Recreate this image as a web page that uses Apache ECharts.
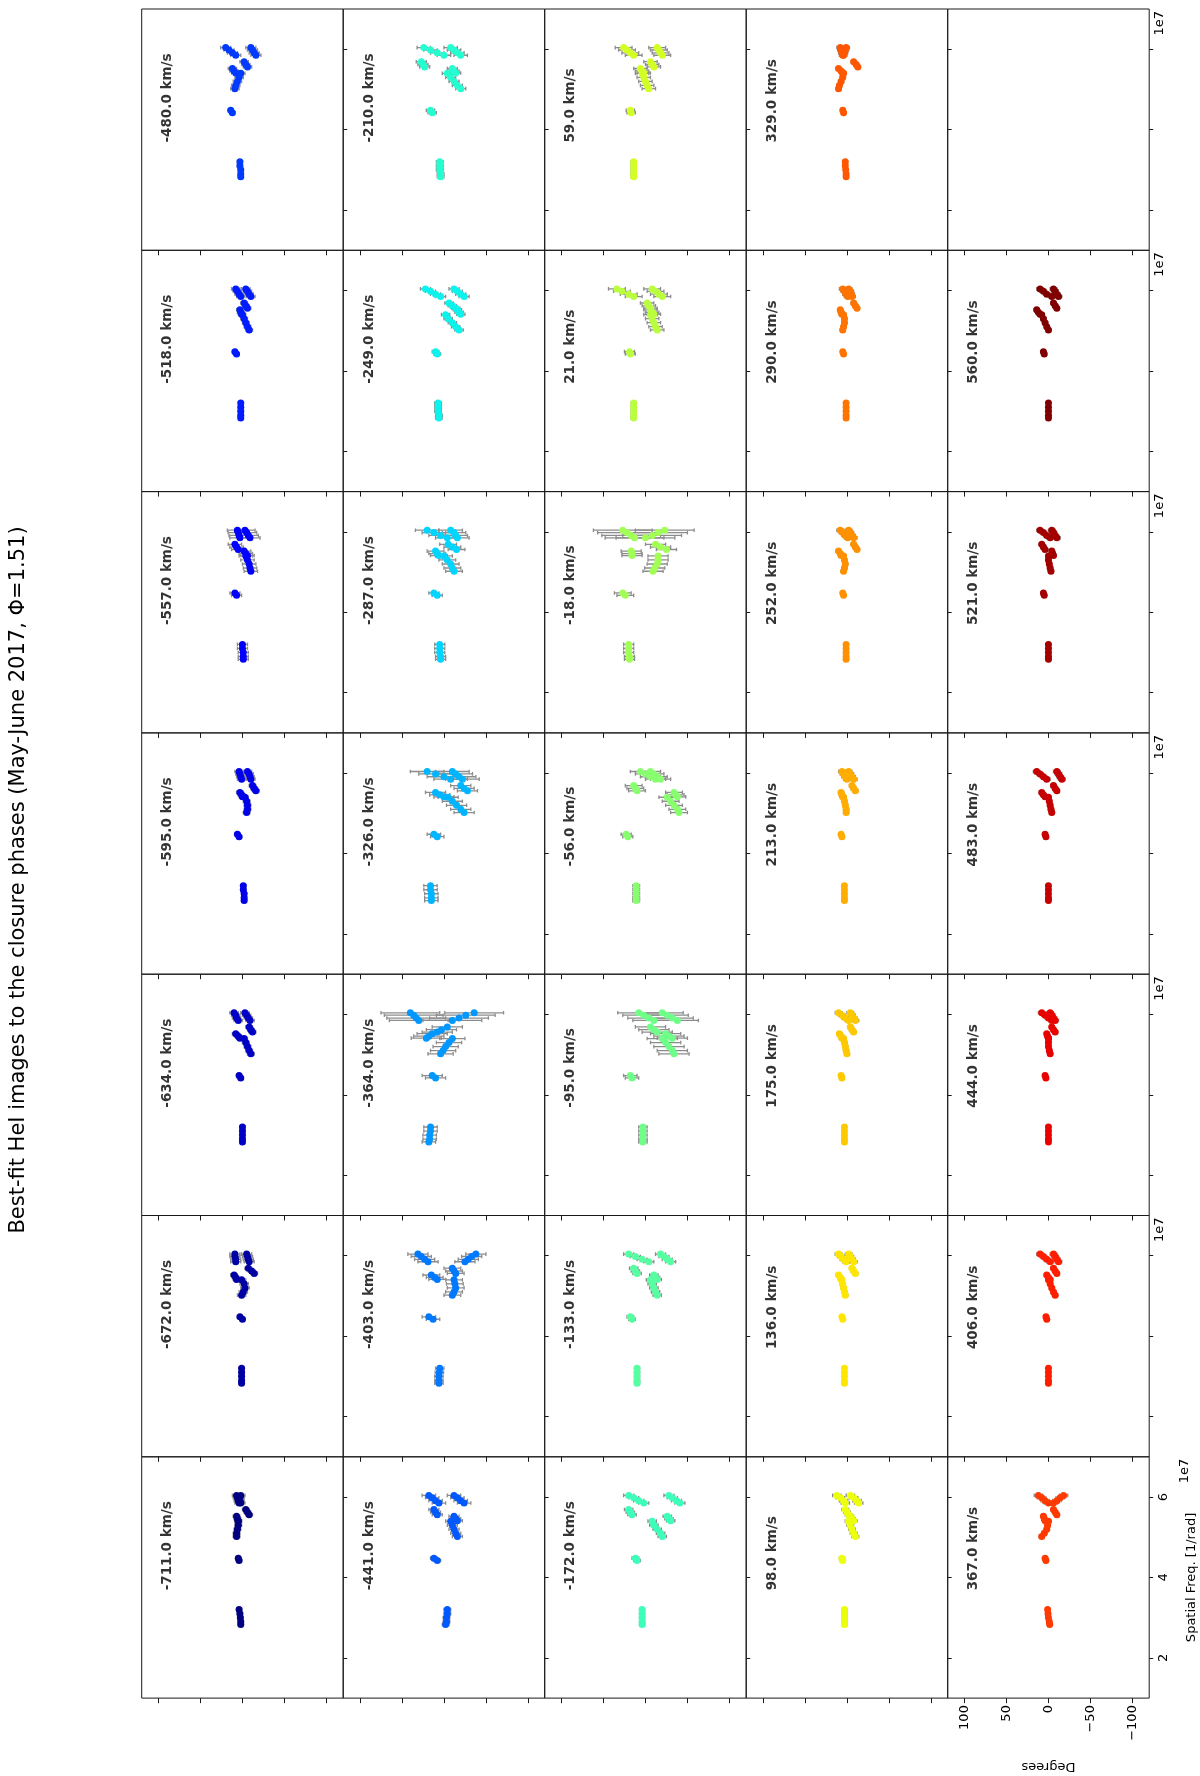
<!DOCTYPE html>
<html>
<head>
<meta charset="utf-8">
<script src="https://cdn.jsdelivr.net/npm/echarts@6/dist/echarts.min.js"></script>
<style>
  html, body { margin: 0; background: #fff; }
  #chart { width: 1200px; height: 1776px; }
</style>
</head>
<body>
<div id="chart"></div>
<script>
// velocity channels, row by row as in the original (unrotated) figure
const velocities = [
  -711, -672, -634, -595, -557, -518, -480,
  -441, -403, -364, -326, -287, -249, -210,
  -172, -133, -95, -56, -18, 21, 59,
  98, 136, 175, 213, 252, 290, 329,
  367, 406, 444, 483, 521, 560
];

// spatial frequencies of the closure triangles (units of 1e7 1/rad), grouped
const freqA = [3.2, 3.1, 3.0, 2.9, 2.83];
const freqB = [4.48, 4.42];
const freqG1 = [6.04, 5.98, 5.91, 5.85];
const freqG2 = [6.04, 5.98, 5.91, 5.85];
const freqG3 = [5.69, 5.62, 5.56];
const freqG4 = [5.52, 5.46, 5.41];
const freqG5 = [5.40, 5.30, 5.20, 5.10, 5.02];
const pointFreqs = [...freqA, ...freqB, ...freqG1, ...freqG2, ...freqG3, ...freqG4, ...freqG5];
const groupSizes = [freqA.length, freqB.length, freqG1.length, freqG2.length, freqG3.length, freqG4.length, freqG5.length];

// closure phase (deg) per panel, same point order as pointFreqs: A(5) B(2) G1(4) G2(4) G3(3) G4(3) G5(5)
const closurePhases = [
  [4,3,2.5,2,2, 5,4, 7,6,5,4, 2,3,3,2, -4,-6,-8, 7,6,5, 5,5,6,7,7],
  [1,1,1,1,1, 3,0, 9,9,8,8, -5,-6,-7,-8, -7,-11,-14, 10,8,7, 1,-2,-3,-1,1],
  [0,0,0,0,0, 4,2, 10,8,7,5, -3,-5,-7,-9, -8,-10,-12, 8,5,3, -2,-4,-6,-8,-10],
  [-1,-1,-2,-2,-2, 6,4, 4,3,2,1, -6,-8,-9,-10, -12,-14,-16, 3,1,0, -3,-5,-6,-6,-5],
  [0,0,-1,-1,-1, 9,7, 6,5,4,3, -3,-5,-7,-9, 9,7,5, -2,-4,-6, -4,-6,-8,-9,-10],
  [2,2,2,2,2, 9,7, 8,6,4,2, -4,-6,-8,-10, -2,-4,-6, 3,2,1, 0,-2,-4,-6,-8],
  [3,3,2,2,2, 14,12, 20,16,12,8, -10,-12,-14,-16, -2,-4,-6, 12,10,8, 2,4,6,8,9],

  [-4,-4,-3,-3,-2, 12,8, 18,14,10,6, -12,-16,-20,-24, 12,10,8, -12,-14,-16, -8,-10,-12,-14,-16],
  [5,5.5,6,6,6, 18,13, 31,27,23,19, -38,-33,-29,-25, -10,-12,-14, 15,11,8, -12,-13,-14,-12,-10],
  [16,16,17,17,18, 14,10, 40,36,33,30, -36,-26,-18,-10, -4,3,8, 14,18,21, -10,-6,-2,1,4],
  [16,16,15,15,15, 12,8, 20,10,0,-8, -10,-14,-18,-22, -20,-24,-28, 10,5,0, -5,-10,-15,-20,-24],
  [5,5,5,4,4, 12,8, 20,12,4,-4, -8,-12,-14,-16, -5,-10,-15, 10,8,6, 0,-4,-8,-10,-12],
  [7,7,7,6,6, 10,8, 22,16,10,4, -12,-16,-20,-24, -6,-10,-14, -16,-18,-20, -2,-5,-10,-14,-18],
  [5,5,5,4,4, 16,14, 24,16,8,0, -8,-12,-16,-20, 27,25,23, -10,-12,-14, -4,-8,-12,-16,-20],

  [4,4,4,4,4, 12,10, 20,14,8,2, -28,-32,-37,-41, 20,18,16, -26,-28,-30, -8,-10,-14,-18,-20],
  [10,10,10,10,10, 18,16, 20,12,4,-4, -18,-22,-26,-30, 14,12,10, -10,-12,-14, -6,-8,-10,-12,-14],
  [3,3,3,3,3, 18,16, 8,2,-4,-10, -20,-26,-32,-38, -6,-10,-14, -24,-28,-32, -20,-24,-28,-32,-34],
  [11,11,11,11,11, 23,21, 6,0,-6,-12, -6,-10,-14,-18, 14,12,10, -34,-36,-38, -26,-30,-34,-38,-40],
  [20,20,20,19,19, 27,24, 27,22,17,13, -23,-15,-8,0, -12,-18,-25, 17,16,16, -15,-15,-14,-11,-9],
  [14,14,14,14,14, 19,18, 34,28,20,14, -8,-12,-16,-20, -2,-4,-6, -6,-8,-10, -6,-8,-10,-12,-14],
  [14,14,14,14,14, 18,17, 26,22,18,14, -14,-16,-18,-20, -6,-8,-10, 6,4,2, 4,2,0,-2,-4],

  [3,3,3,3,3, 6,5, 12,8,4,2, -4,-8,-12,-14, 2,0,-2, -4,-6,-8, -2,-4,-6,-8,-10],
  [3,3,3,3,3, 6,5, 10,7,4,1, -2,-4,-6,-8, -6,-8,-10, 10,8,7, 6,5,4,3,2],
  [3,3,3,3,3, 7,6, 10,6,2,-2, -4,-6,-8,-10, -4,-6,-8, 9,7,6, 4,3,2,1,0],
  [3,3,3,3,3, 7,6, 6,4,2,0, -2,-4,-6,-8, -6,-8,-10, 7,6,5, 4,3,2,1,1],
  [1,1,1,1,1, 5,4, 8,5,2,-1, -2,-4,-6,-8, -8,-10,-12, 10,8,7, 4,3,2,3,4],
  [1,1,1,1,1, 5,4, 5,3,1,-1, -2,-4,-5,-6, -8,-10,-12, 8,7,6, 4,3,3,4,5],
  [2,2,1.5,1,1, 5,4, 8,7,6,5, 1,2,3,4, -8,-11,-13, 10,7,5, 4,5,7,9,10],

  [1,0.5,0,-1,-1.5, 4,3, 12,8,4,0, -18,-14,-10,-6, -6,-8,-10, 6,5,4, 0,1,2,5,8],
  [0,0,0,0,0, 3,2, 10,6,2,-2, -6,-8,-10,-12, -6,-8,-10, 2,0,-2, 0,-2,-4,-6,-8],
  [0,0,0,0,0, 4,3, 8,4,0,-4, -2,-4,-6,-8, -4,-6,-8, 2,1,0, 0,0,0,-1,-2],
  [0,0,0,0,0, 4,3, 14,10,6,2, -10,-12,-14,-16, -6,-8,-10, 8,6,4, 0,-1,-2,-3,-4],
  [0,0,0,0,0, 6,5, 10,6,2,-2, -4,-6,-8,-10, 8,6,4, -4,-5,-6, 0,0,-1,-2,-3],
  [0,0,0,0,0, 6,5, 10,6,2,-4, -6,-8,-10,-12, -6,-8,-10, 14,12,10, 8,6,4,2,0]
];

// 1-sigma closure phase error (deg) per panel, one value per triangle group A B G1 G2 G3 G4 G5
const groupErrors = [
  [3,3,5,5,4,4,4], [3,3,6,6,4,4,5], [3,3,5,5,4,4,4], [3,3,5,5,4,4,4],
  [6,6,12,12,8,8,8], [3,3,5,5,4,4,4], [3,3,6,6,5,5,5],
  [4,4,8,8,6,6,6], [5,8,12,12,10,10,10], [8,12,35,35,18,18,15], [8,8,20,20,12,12,12],
  [6,6,14,14,10,10,10], [4,4,6,6,5,5,5], [4,5,8,8,6,6,6],
  [3,4,6,6,5,5,5], [3,4,6,6,5,5,5], [5,8,25,25,18,18,18], [4,6,12,12,10,10,10],
  [6,10,35,35,12,12,12], [3,6,10,10,8,8,8], [3,5,10,10,8,8,8],
  [3,3,5,5,4,4,4], [2,2,4,4,3,3,3], [2,2,4,4,3,3,3], [2,2,4,4,3,3,3],
  [2,2,4,4,3,3,3], [2,2,4,4,3,3,3], [2,2,4,4,3,3,3],
  [2,2,5,5,3,3,3], [2,2,4,4,3,3,3], [2,2,4,4,3,3,3], [2,2,4,4,3,3,3],
  [2,2,4,4,3,3,3], [2,2,4,4,3,3,3]
];

const degTicks = [-100, -50, 0, 50, 100];
const freqTicks = [2, 4, 6];
const titleText = 'Best-fit HeI images to the closure phases (May-June 2017, \u03a6=1.51)';

// figure layout (the original figure is shown rotated 90 degrees)
const N_ROWS = 5, N_COLS = 7;
const GRID_LEFT = 141.7, GRID_TOP = 9, CELL_W = 201.5, CELL_H = 241.3;
const FONT = '"DejaVu Sans", "Liberation Sans", sans-serif';

// matplotlib "jet" colormap
const jetSeg = {
  r: [[0, 0], [0.35, 0], [0.66, 1], [0.89, 1], [1, 0.5]],
  g: [[0, 0], [0.125, 0], [0.375, 1], [0.64, 1], [0.91, 0], [1, 0]],
  b: [[0, 0.5], [0.11, 1], [0.34, 1], [0.65, 0], [1, 0]]
};
const segVal = (seg, t) => {
  for (let i = 1; i < seg.length; i++) {
    if (t <= seg[i][0]) {
      const [t0, v0] = seg[i - 1];
      const [t1, v1] = seg[i];
      return v0 + (v1 - v0) * (t - t0) / (t1 - t0);
    }
  }
  return seg[seg.length - 1][1];
};
const jet = (t) => {
  const c = (v) => Math.round(Math.max(0, Math.min(1, v)) * 255);
  return `rgb(${c(segVal(jetSeg.r, t))},${c(segVal(jetSeg.g, t))},${c(segVal(jetSeg.b, t))})`;
};
const vMin = Math.min(...velocities);
const vMax = Math.max(...velocities);

const fmtDeg = (v) => (v < 0 ? '\u2212' + Math.abs(v) : String(v));

const grids = [];
const xAxes = [];
const yAxes = [];
const series = [];
const graphics = [];

for (let k = 0; k < N_ROWS * N_COLS; k++) {
  const R = Math.floor(k / N_COLS);
  const C = k % N_COLS;
  // original top -> picture left, original left -> picture bottom
  const col = R;
  const row = N_COLS - 1 - C;
  const labelled = R === N_ROWS - 1 && C === 0;

  grids.push({
    left: GRID_LEFT + col * CELL_W,
    top: GRID_TOP + row * CELL_H,
    width: CELL_W,
    height: CELL_H,
    show: true,
    borderColor: '#1a1a1a',
    borderWidth: 1,
    backgroundColor: 'transparent',
    containLabel: false
  });

  xAxes.push({
    gridIndex: k,
    type: 'value',
    min: -120,
    max: 120,
    inverse: true,
    position: 'bottom',
    axisLine: { show: false, onZero: false },
    splitLine: { show: false },
    axisTick: { show: true, inside: false, length: 5, customValues: degTicks, lineStyle: { color: '#1a1a1a', width: 1 } },
    axisLabel: {
      show: labelled, customValues: degTicks, rotate: 90, margin: 7,
      formatter: fmtDeg, color: '#000', fontSize: 13, fontFamily: FONT
    },
    name: labelled ? 'Degrees' : '',
    nameLocation: 'middle',
    nameGap: 62,
    nameRotate: 180,
    nameTextStyle: { color: '#000', fontSize: 13, fontFamily: FONT }
  });

  yAxes.push({
    gridIndex: k,
    type: 'value',
    min: 1,
    max: 7,
    position: 'right',
    axisLine: { show: false, onZero: false },
    splitLine: { show: false },
    axisTick: { show: true, inside: false, length: 4, customValues: freqTicks, lineStyle: { color: '#1a1a1a', width: 1 } },
    axisLabel: {
      show: labelled, customValues: freqTicks, rotate: 90, margin: 8,
      color: '#000', fontSize: 13, fontFamily: FONT
    },
    name: labelled ? 'Spatial Freq. [1/rad]' : '',
    nameLocation: 'middle',
    nameGap: 36,
    nameRotate: 90,
    nameTextStyle: { color: '#000', fontSize: 13, fontFamily: FONT }
  });

  if (k >= velocities.length) {
    continue;
  }

  const phases = closurePhases[k];
  const errs = [];
  groupSizes.forEach((n, g) => {
    for (let i = 0; i < n; i++) errs.push(groupErrors[k][g]);
  });
  const color = jet((velocities[k] - vMin) / (vMax - vMin));

  series.push({
    type: 'custom',
    xAxisIndex: k,
    yAxisIndex: k,
    clip: true,
    silent: true,
    z: 2,
    data: pointFreqs.map((f, i) => [phases[i], f, errs[i]]),
    renderItem: (params, api) => {
      const x = api.value(0);
      const y = api.value(1);
      const e = api.value(2);
      const p1 = api.coord([x - e, y]);
      const p2 = api.coord([x + e, y]);
      const style = { stroke: '#8c8c8c', lineWidth: 1.3 };
      return {
        type: 'group',
        children: [
          { type: 'line', shape: { x1: p1[0], y1: p1[1], x2: p2[0], y2: p2[1] }, style },
          { type: 'line', shape: { x1: p1[0], y1: p1[1] - 1.8, x2: p1[0], y2: p1[1] + 1.8 }, style },
          { type: 'line', shape: { x1: p2[0], y1: p2[1] - 1.8, x2: p2[0], y2: p2[1] + 1.8 }, style }
        ]
      };
    }
  });

  series.push({
    type: 'scatter',
    xAxisIndex: k,
    yAxisIndex: k,
    silent: true,
    z: 3,
    symbolSize: 7,
    itemStyle: { color, opacity: 1 },
    data: pointFreqs.map((f, i) => [phases[i], f])
  });

  // velocity label anchored in data space
  series.push({
    type: 'scatter',
    xAxisIndex: k,
    yAxisIndex: k,
    silent: true,
    z: 4,
    symbolSize: 1,
    itemStyle: { color: 'rgba(0,0,0,0)' },
    data: [[89, 3.68]],
    label: {
      show: true,
      position: 'inside',
      rotate: 90,
      align: 'left',
      verticalAlign: 'middle',
      formatter: `${velocities[k].toFixed(1)} km/s`,
      color: '#000',
      fontSize: 13.5,
      fontWeight: 'bold',
      fontFamily: FONT
    }
  });
}

// axis offset texts "1e7" at the right end of every picture row
for (let r = 0; r < N_COLS; r++) {
  const isBottom = r === N_COLS - 1;
  graphics.push({
    type: 'text',
    x: isBottom ? 1185 : 1160,
    y: GRID_TOP + r * CELL_H + 2,
    rotation: Math.PI / 2,
    style: {
      text: '1e7',
      fill: '#000',
      font: `13px ${FONT}`,
      textAlign: 'right',
      textVerticalAlign: 'middle'
    }
  });
}

graphics.push({
  type: 'text',
  x: 19,
  y: 880,
  rotation: Math.PI / 2,
  style: {
    text: titleText,
    fill: '#000',
    font: `21px ${FONT}`,
    textAlign: 'center',
    textVerticalAlign: 'middle'
  }
});

const chart = echarts.init(document.getElementById('chart'));
chart.setOption({
  animation: false,
  backgroundColor: '#fff',
  grid: grids,
  xAxis: xAxes,
  yAxis: yAxes,
  series,
  graphic: graphics
});
</script>
</body>
</html>
